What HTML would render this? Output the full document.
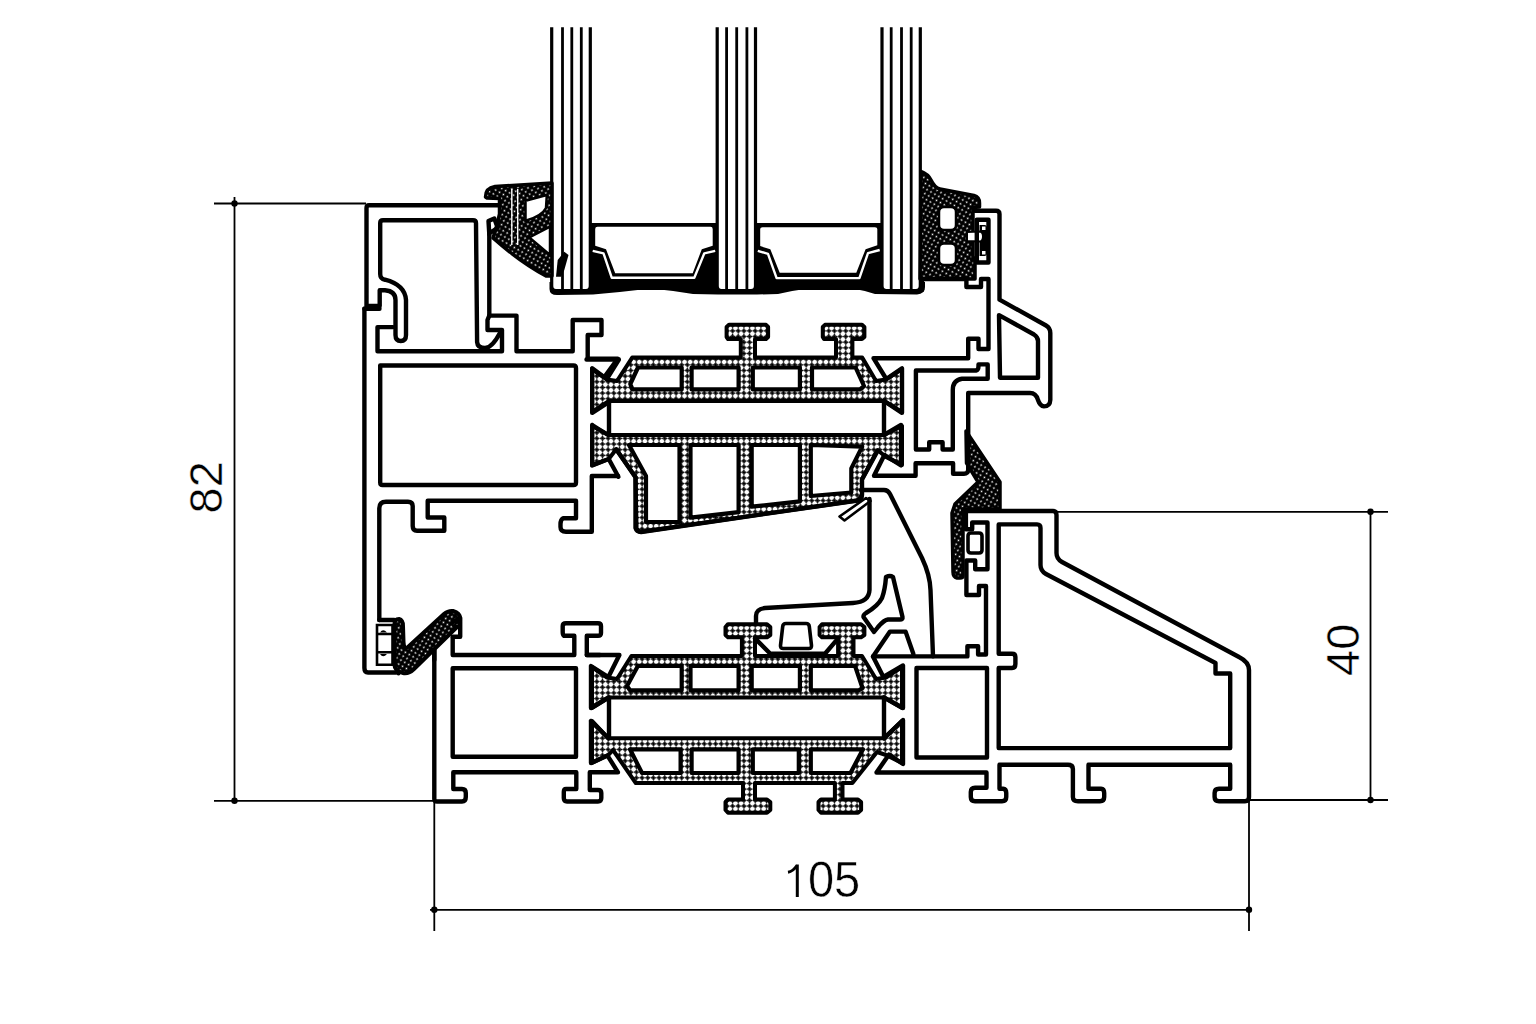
<!DOCTYPE html>
<html><head><meta charset="utf-8">
<style>
html,body{margin:0;padding:0;background:#fff;width:1536px;height:1024px;overflow:hidden}
svg{display:block}
text{font-family:"Liberation Sans",sans-serif;fill:#000}
</style></head><body>
<svg width="1536" height="1024" viewBox="0 0 1536 1024">
<defs>
<pattern id="dots" width="4.5" height="4.5" patternUnits="userSpaceOnUse" patternTransform="rotate(30)">
<rect width="4.5" height="4.5" fill="#000"/><circle cx="2.25" cy="2.25" r="0.85" fill="#fff"/>
</pattern>
<pattern id="chk" width="8" height="8" patternUnits="userSpaceOnUse" patternTransform="rotate(45)">
<rect width="8" height="8" fill="#000"/><circle cx="4" cy="4" r="2.4" fill="#fff"/><circle cx="0" cy="0" r="2.4" fill="#fff"/><circle cx="8" cy="0" r="2.4" fill="#fff"/><circle cx="0" cy="8" r="2.4" fill="#fff"/><circle cx="8" cy="8" r="2.4" fill="#fff"/>
</pattern>
</defs>
<rect width="1536" height="1024" fill="#fff"/>
<g id="dims" stroke="#000" stroke-width="1.8" fill="none">
<path d="M214 203.5H366 M234.5 197V801 M214 800.8H434 M434.3 800V931 M430 909.8H1252 M1249 800V931 M1056 511.8H1388 M1370.5 511.8V800 M1249 800H1388"/>
</g>
<g id="dimdots" fill="#000">
<circle cx="234.5" cy="203.5" r="3.2"/><circle cx="234.5" cy="800.8" r="3.2"/>
<circle cx="434.3" cy="909.8" r="3.2"/><circle cx="1249" cy="909.8" r="3.2"/>
<circle cx="1370.5" cy="511.8" r="3.2"/><circle cx="1370.5" cy="800" r="3.2"/>
</g>
<text x="0" y="0" font-size="47" stroke="#fff" stroke-width="0.5" transform="translate(221.6,513.5) rotate(-90)">82</text>
<path fill="none" stroke="#000" stroke-width="3" d="M797.3 897V864.5 M797.3 865Q793 871.5 788 872.3"/>
<text x="808" y="0" font-size="47" stroke="#fff" stroke-width="0.5" transform="translate(0,896.5) scale(1,1.05)">05</text>
<text x="0" y="0" font-size="47" stroke="#fff" stroke-width="0.5" transform="translate(1359.2,676) rotate(-90)">40</text>
<g id="glaze">
<path fill="#000" d="M589 223H719V290H589Z M754 223H882V290H754Z"/>
<path fill="#000" d="M549.5 282V289Q549.5 295 557 295L593 294.5Q622 292 651 288.5Q672 290.5 693 294L718 294.5H757L778 294Q805 287.5 833 286.5Q856 287.5 875 294L917 294.5Q925 294 925 287V282Z"/>
<g fill="#fff" stroke="#000" stroke-width="3.2">
<path d="M551.7 27.2V286Q551.7 290.5 556 290.5H586Q590.3 290.5 590.3 286V27.2"/>
<path d="M717.2 27.2V286Q717.2 290.5 721.5 290.5H751Q755.5 290.5 755.5 286V27.2"/>
<path d="M882 27.2V286Q882 290.5 886.5 290.5H916Q920.3 290.5 920.3 286V27.2"/>
</g>
<g stroke="#000" stroke-width="2.8" fill="none">
<path d="M562.5 27.2V290 M571.8 27.2V290 M581.3 27.2V290"/>
<path d="M726.6 27.2V290 M736.7 27.2V290 M746.9 27.2V290"/>
<path d="M891.2 27.2V290 M901.5 27.2V290 M911.2 27.2V290"/>
</g>
<g fill="#fff">
<path d="M595.2 229Q595.2 226.7 597.5 226.7H710.5Q712.7 226.7 712.7 229V245.8L701.8 249.2L692.7 273.3H615.2L606 249.2L595.2 245.8Z"/>
<path d="M760.2 229Q760.2 227.3 762.5 227.3H875Q877.3 227.3 877.3 229V245.3L865.6 249.2L856.3 272.7H779.7L770.3 249.2L760.2 246.1Z"/>
</g>
<g fill="none" stroke="#fff" stroke-width="2.4" stroke-linejoin="round">
<path d="M592.7 250.8L603.5 253.3L611.8 277.8H694.3L704.3 253.3L715.2 250.8"/>
<path d="M757.8 250.8L768 253.9L776.6 278.1H859.4L868 253.1L879.7 250"/>
</g>
</g>
<g id="prof" stroke="#000" stroke-width="4.4" fill="none" stroke-linejoin="round" stroke-linecap="round">
<path d="M499.5 205.2H369 Q366.5 205.2 366.5 208V306H379.7V290.2H385Q395.5 291 395.5 300V335Q395.5 341 400.8 341Q406 341 406 335V300Q405 285 385 279.7Q380.2 279 380.2 274V223Q380.2 220.2 383 220.2H473Q476 220.2 476 223L477.1 342Q477.5 348 485 348Q492 348 500.2 332.5"/>
<path d="M364.4 308.7H379.5 M393 327.1H377.5V351.3H502V330H487.5V320L489.3 315.6"/>
<path d="M489.3 234V315.6H516.5V351.3H572.7V320H601.5V335H587.7V358.7H617.7L604 377.5"/>
<path d="M364.4 308.7V668Q364.4 672.5 368 672.5H396"/>
<path d="M380.2 365.5H573.5Q576 365.5 576 368V482.5Q576 485 573.5 485H382.5Q380.2 485 380.2 482.5Z"/>
<path d="M379.3 620V508.3Q379.3 501.7 386 501.7H408Q412.7 501.7 412.7 506V526Q412.7 530.8 417 530.8H444.3V517.5H427.7V500.8H576V518.3H563Q560.5 520 560.5 524V527Q560.5 531.7 566 531.7H591.8V476H618"/>
<path d="M379.3 620H394Q398.5 620 398.5 625V673.3"/>
<path d="M452.7 637.5V655H574.3V635.8H564Q562.7 635 562.7 632V626Q562.7 623.3 566 623.3H598Q601 623.3 601 626V633Q601 635.8 598 635.8H586.8V655H600"/>
<path d="M452.7 668.3H576V756.7H452.7Z"/>
<path d="M434.3 650V799Q434.3 801.5 437 801.5H462Q465.8 801.5 465.8 797V793Q465.8 789 462 789H453.3V772.3H576.3V789H566Q563.8 789 563.8 792V798Q563.8 801.5 567 801.5H598Q601.3 801.5 601.3 798V793Q601.3 790 598 790H589.8V772.3H618L607.5 755.6"/>
</g>
<g id="strips">
<path fill="url(#chk)" stroke="#000" stroke-width="4" stroke-linejoin="round" d="M592 369 L607 379.5 L617 381 L632.2 357.6 L740.8 357.6 L740.8 339 L728 339 L726.6 337 L726.6 327 L729 324.8 L766 324.8 L768.1 327 L768.1 337 L766 339 L755 339 L755 357.6 L836 357.6 L836 339 L824 339 L822.8 337 L822.8 327 L825 324.8 L862 324.8 L864.4 327 L864.4 337 L862 339 L852.4 339 L852.4 357.6 L862.2 357.6 L876 381 L886 379.5 L902 369 L902 412 L884 401 L609 401 L592 412Z"/>
<path fill="#fff" stroke="#000" stroke-width="4.2" stroke-linejoin="round" d="M630.3 384 L638 367.5 L681.7 367.5 L681.7 389.4 L632.5 389.4Z M691.6 367.5 L738.6 367.5 L738.6 389.4 L691.6 389.4Z M752.8 367.5 L799.9 367.5 L799.9 389.4 L752.8 389.4Z M812 367.5 L855.6 367.5 L864 386 L860 389.4 L812 389.4Z"/>
<path fill="url(#chk)" stroke="#000" stroke-width="4" stroke-linejoin="round" d="M592 426 L609 435 L884 435 L902 426 L902 465 L886 457 L877.5 450 L862 479.4 L862 495 L857.5 500.5 L640 532 L636.6 528.8 L635.5 477.2 L616.2 449.3 L608.7 459 L592 465.4Z"/>
<path fill="#fff" stroke="#000" stroke-width="4.2" stroke-linejoin="round" d="M629 445 L679.5 445 L679.5 522 L646 522 L646 476Z M690.5 445 L738.6 445 L738.6 512.2 L690.5 517.7Z M751.7 445 L799.9 445 L799.9 501.3 L751.7 506.7Z M810.8 445 L862.2 446.6 L851.3 468.4 L851.3 492.5 L810.8 496Z"/>
<path fill="url(#chk)" stroke="#000" stroke-width="4" stroke-linejoin="round" d="M592 667 L607 677.5 L617 679 L631.4 656 L741.9 656 L741.9 637.3 L728 637.3 L725.5 635 L725.5 627 L728 624.2 L767 624.2 L770.3 627 L770.3 635 L767 637.3 L755 637.3 L755 656 L838.1 656 L838.1 637.3 L822 637.3 L819.6 635 L819.6 627 L822 624.2 L861 624.2 L864.4 627 L864.4 635 L861 637.3 L853.5 637.3 L853.5 656 L862 656 L876 679 L886 677.5 L902 667 L902 708 L884 697.5 L609 697.5 L592 708Z"/>
<path fill="#fff" stroke="#000" stroke-width="4.2" stroke-linejoin="round" d="M627 686 L638 665.8 L681.7 665.8 L681.7 690.3 L630 690.3Z M690.5 665.8 L738.6 665.8 L738.6 690.3 L690.5 690.3Z M751.7 665.8 L799.9 665.8 L799.9 690.3 L751.7 690.3Z M810.8 665.8 L855 665.8 L862.5 688 L859 690.3 L810.8 690.3Z"/>
<path fill="url(#chk)" stroke="#000" stroke-width="4" stroke-linejoin="round" d="M592 721 L608.4 738.3 L884 738.3 L902 721 L902 763 L886 755 L877 752 L852.4 783.1 L842.5 783.1 L842.5 799.5 L858 799.5 L861.1 802 L861.1 810 L858 812.7 L821 812.7 L818.5 810 L818.5 802 L821 799.5 L834.9 799.5 L834.9 783.1 L755 783.1 L755 799.5 L767 799.5 L770.3 802 L770.3 810 L767 812.7 L728 812.7 L725.5 810 L725.5 802 L728 799.5 L743 799.5 L743 783.1 L635.8 783.1 L613 750 L608.4 755 L592 763Z"/>
<path fill="#fff" stroke="#000" stroke-width="4.2" stroke-linejoin="round" d="M630 749.3 L680.6 749.3 L680.6 773 L642 773Z M691.6 749.3 L738.6 749.3 L738.6 773 L691.6 773Z M752.8 749.3 L798.8 749.3 L798.8 773 L752.8 773Z M810.8 749.3 L863 749.3 L850.5 773 L810.8 773Z"/>
</g>
<g id="gaskets">
<path fill="url(#dots)" stroke="#000" stroke-width="3.5" stroke-linejoin="round" d="M485.5 197Q485.5 188 495 186.5L552 183V276H546Q520 262 493 238L497 225L499.5 214V198.5L487 198Z"/>
<path fill="none" stroke="#fff" stroke-width="1.4" d="M511.8 189V245M517.7 189V245"/>
<path fill="#fff" stroke="#000" stroke-width="2.5" d="M525.5 200.8L546.8 195L546 208Q542 216 525.5 220.8Z M529.3 237.5L550 226.7V255Z"/>
<path fill="#000" d="M557.7 260L564.3 251.7L568.5 255L564.3 270L561 276.7H556Z"/>
<path fill="url(#dots)" stroke="#000" stroke-width="3.5" stroke-linejoin="round" d="M920.9 171.4Q928 174 931 180Q935 188 940 189L974 195.5Q979.5 197 979.5 203V207L973 207.5V258H975V279H920Z"/>
<path fill="#fff" stroke="#000" stroke-width="2.5" d="M944 207H951Q956 207 956 212V225Q956 230 951 230H944Q939 230 939 225V212Q939 207 944 207Z M944 243.5H951Q956 243.5 956 248.5V260Q956 265 951 265H944Q939 265 939 260V248.5Q939 243.5 944 243.5Z"/>
<path fill="#000" d="M979.5 225H984.5Q987 225 987 228V253Q987 256 984.5 256H979.5Z"/>
<path fill="#fff" stroke="#000" stroke-width="2" d="M967 232L980 231.5Q983 232 983 236.5Q983 241 980 241.5L967 241Z"/>
<path fill="#fff" d="M982 226.5H985.5V230H982Z M982 251H985.5V254.5H982Z"/>
<path fill="url(#dots)" stroke="#000" stroke-width="3.5" stroke-linejoin="round" d="M966 431L1000 482V509H963V576Q963 578 960 578H957Q953 577 953 572L952 513L955 504L978 482L966.5 463Z"/>
<path fill="url(#dots)" stroke="#000" stroke-width="4" stroke-linejoin="round" d="M394.5 624Q394.5 619 399 619Q403 620 403 626L403.5 642Q404 650 408 647L444 614Q448 610.5 453 611Q460 613 460 618V626L457 627L414 669Q409 674 403 673Q394.5 671 394.5 665Z"/>
<path fill="#fff" stroke="#000" stroke-width="2.6" d="M377 625H392.5V664.8H377Z M377 634H392.5 M377 652.3H392.5"/>
<path fill="#000" d="M380 632.5Q383 628 387 632.5Z M380 654Q383 658.5 387 654Z"/>
</g>
<g id="prof2" stroke="#000" stroke-width="4.4" fill="none" stroke-linejoin="round" stroke-linecap="round">
<path d="M489.3 234.3L488.5 221L494.3 218.5L497.7 227.7L491.8 231.8"/>
<path d="M609 401V435 M884 401V435 M609 697.5V738.3 M884 697.5V738.3"/>
<path d="M586.5 359.5H618.9L606.8 379L592.2 368.4V412.8L610.6 400.8"/>
<path d="M592.2 425L608 435 M592.2 425V465.4L608.7 459L618.4 476.7"/>
<path d="M616.2 449.3L635.5 477.2V528Q636.6 532 641 532L857.5 500.5Q862 499 862 495V479.4L877 452"/>
<path d="M453 622L460.2 618V636.7H452.7"/>
<path d="M434.3 650V660"/>
<path d="M586.8 655H619.4L608.4 677L591 666V708L608.4 697.5"/>
<path d="M591 721L608.4 738.3 M591 721V763L607.5 755.6"/>
<path d="M922 290V279H966.4V287H981V279H988.5V349H978.5V338.7H968.2V358.2H873.5L886.3 379L902 368.4V412.8L884 400.8"/>
<path d="M976.8 219.7H988.5V262.5H976.8Z"/>
<path d="M974.7 210.7H996Q999.5 210.7 999.5 214V299.7L1046 325.5Q1050.3 328 1050.3 333V400Q1050 406.4 1044 406.4Q1040 406 1038 400Q1036 393 1030 393H968.2V470Q968 473.75 964 473.75H953.1V463.3H915.6V475.8H874L884.4 455L901 465.4V424.9L884 435"/>
<path d="M999 315.1L1034 334.5Q1038 337 1038 341V377.7H1000Z"/>
<path d="M915.9 449.5V370.5H976Q978.5 370 978.5 366V364.4H987.7V378.7H962Q952.8 380 952.8 390V449.5H942.6V442.3H929.2V449.5Z"/>
<path d="M963.1 511H1053Q1056.5 511 1056.5 515V553Q1056.5 559 1062 562L1239 657Q1249 662 1249 670V797Q1249 801.25 1245 801.25H1219Q1214.6 801.25 1214.6 797V793Q1214.6 788.75 1219 788.75H1230.2V764.8H1088.5V788.75H1101Q1104.2 789 1104.2 793V797Q1104.2 801.25 1100 801.25H1078Q1072.9 801.25 1072.9 797V769Q1072.9 764.8 1068 764.8H999.5V788.75H1003Q1006.25 789 1006.25 793V797Q1006.25 801.25 1002 801.25H975Q970.8 801.25 970.8 797V792Q970.8 787.7 975 787.7H986.5V772.5H876.5L889 754.5L903 764V720L884 738.3"/>
<path d="M998.7 524.4H1037Q1040.5 524.5 1040.5 528V565Q1040.5 571 1046 574L1215.5 663V673.5H1230.2V748.1H998.7V668H1012Q1015.4 668 1015.4 664V657Q1015.4 653.75 1012 653.75H998.7Z"/>
<path d="M965.9 510.7V529.3H972.2V522.5H987.5V569.3H975.2V560.5H966.4V595H979V586H986V654.5H978.1V646.2H967.4V656.4H873L883.4 677L903 665.5V708L884 697.5"/>
<path fill="#fff" stroke-width="3.6" d="M971 533H979Q982 533 982 536V550Q982 553 979 553H971Q968 553 968 550V536Q968 533 971 533Z"/>
<path d="M916.5 668H987V757.5H916.5Z"/>
<path d="M861 490H884Q888 490 890 494L922 558Q930 575 930.5 590L933 656.4"/>
<path stroke-width="2.6" fill="#fff" d="M839.5 516.5L866 498L870.5 501L844.5 520.5Z"/>
<path d="M869.5 499V590Q869 602 853 603L765 608Q756 609 756 616V623"/>
<path d="M886 577Q890 575 893 577L902.5 617Q903 619.5 900 619.5H888Q884 620 878 627L874 632L863.5 617Q863 615 866 613Q878 606 882 598Q885 590 886 577Z"/>
<path d="M873 656.4L890 631.6H905.6L913.4 654"/>
<path stroke-width="3.6" d="M786 623.5H806Q809 623.5 809.3 626.5L811.5 645.5Q811.8 648.5 808.8 648.5H783.2Q780.2 648.5 780.5 645.5L782.7 626.5Q783 623.5 786 623.5Z"/>
<path d="M755 638.4L770.3 653.8H825L838.1 638.4"/>
</g>
</svg>
</body></html>
